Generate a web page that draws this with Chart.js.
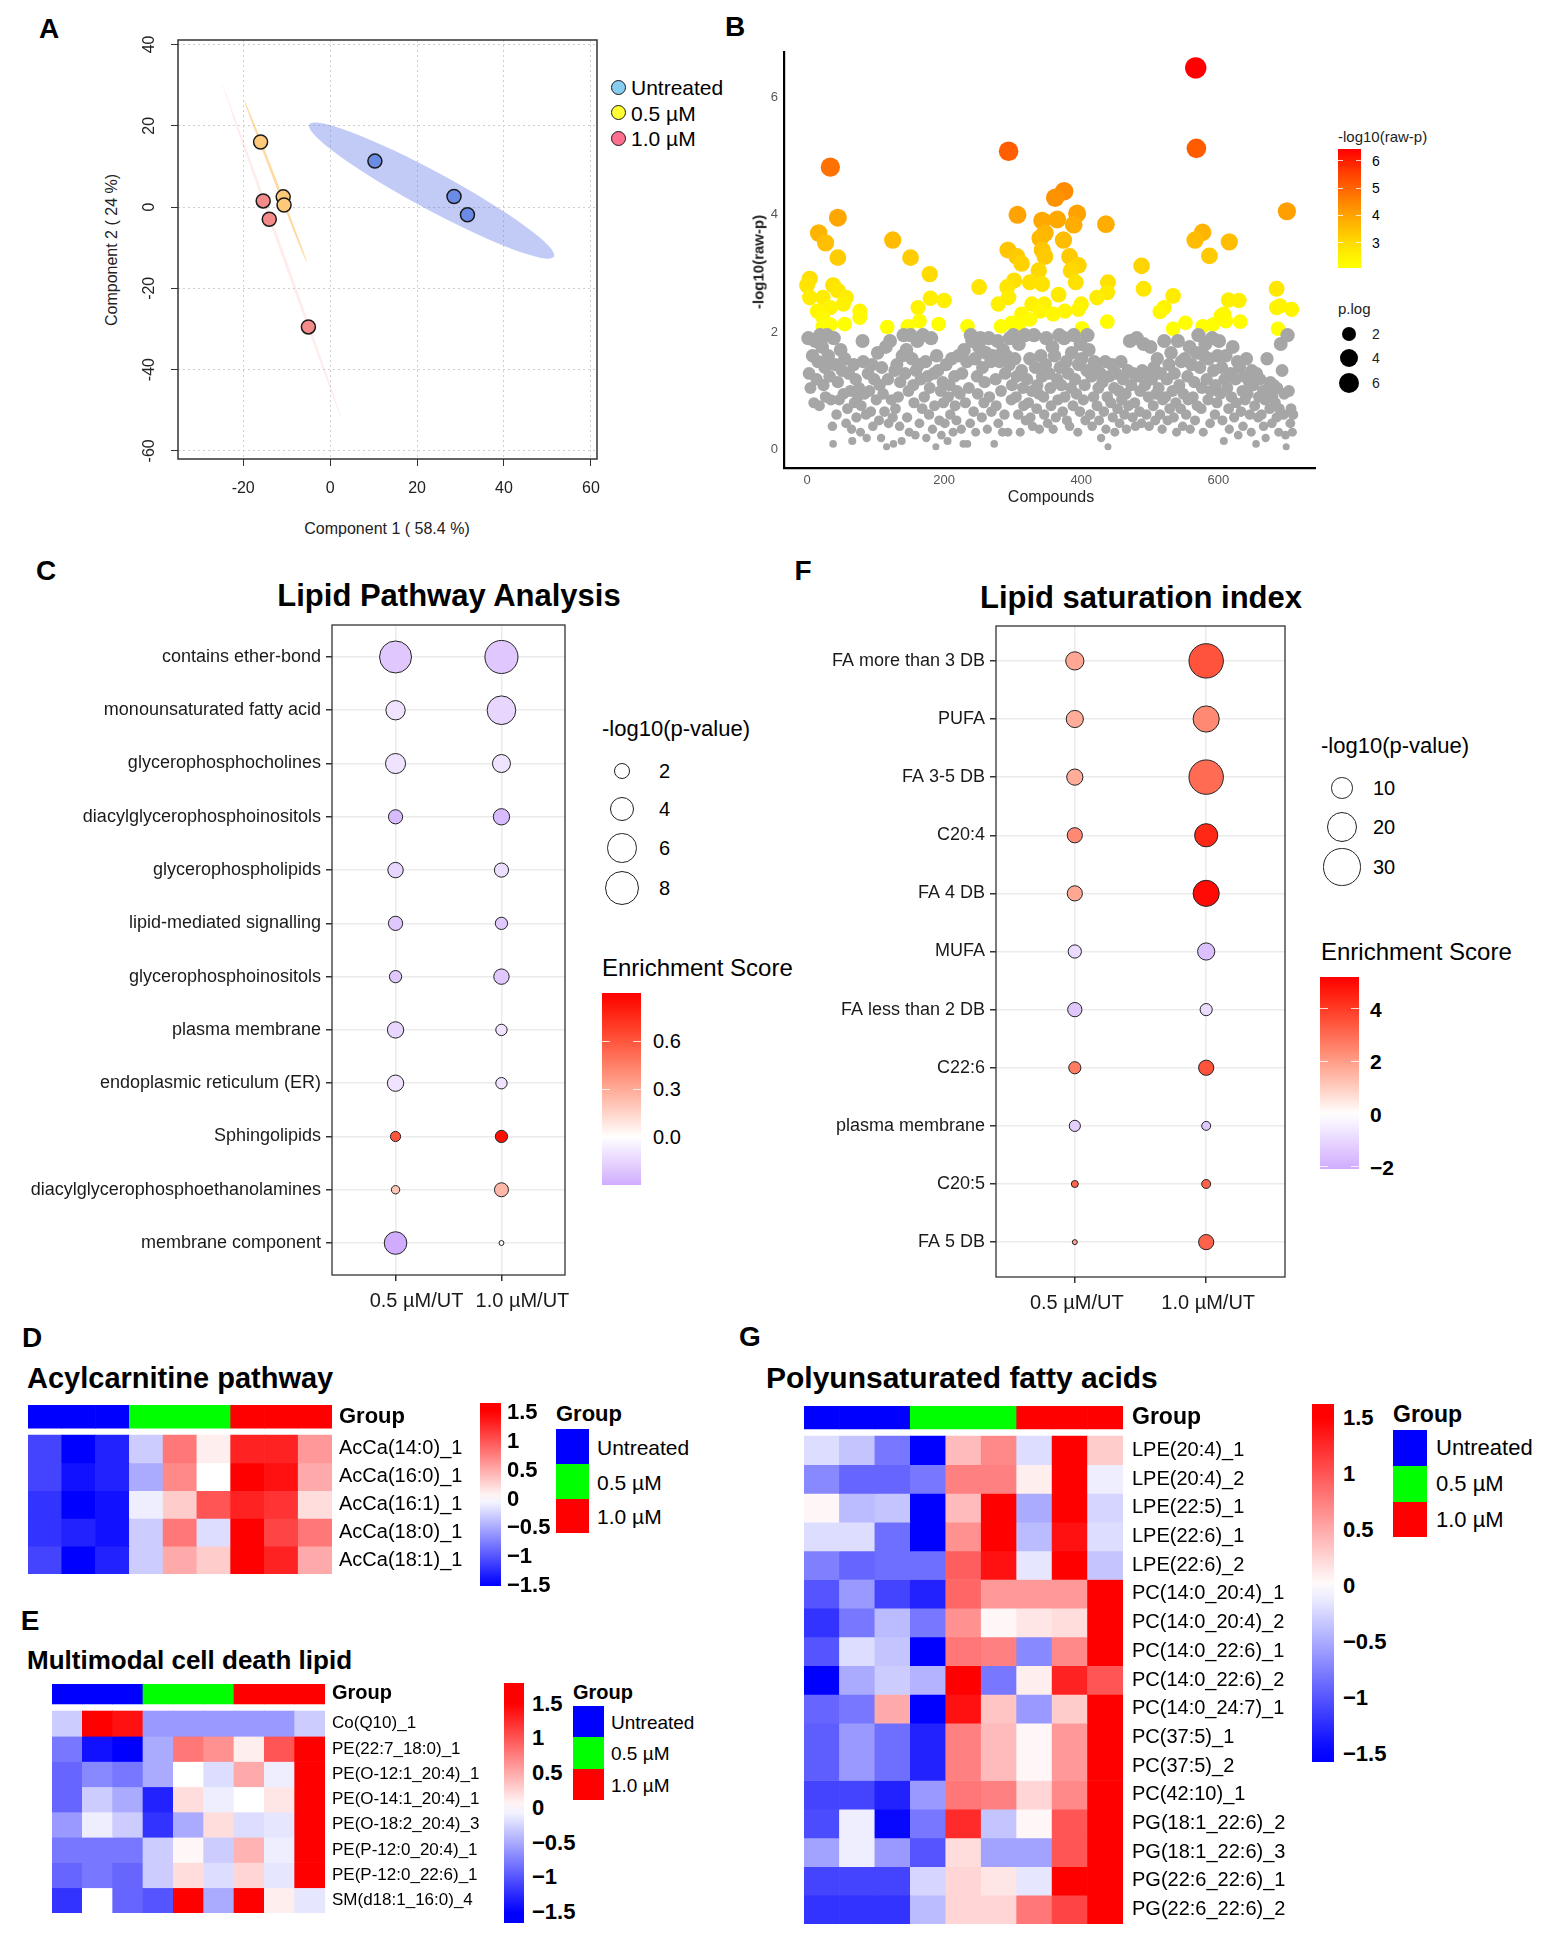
<!DOCTYPE html>
<html>
<head>
<meta charset="utf-8">
<title>Lipidomics figure</title>
<script src="https://cdn.jsdelivr.net/npm/chart.js@4.4.1/dist/chart.umd.min.js"></script>
<style>
  body { margin: 0; background: #fff; }
  #page { position: relative; width: 1549px; height: 1936px; overflow: hidden; background: #fff; }
  #page canvas { position: absolute; }
</style>
</head>
<body>
<div id="page"></div>
<script>
// ---------- A: PCA scores ----------
const pcaUntreated = [[10.3, 11.3], [28.5, 2.6], [31.6, -1.9]];
const pcaLow = [[-16.0, 16.0], [-10.8, 2.5], [-10.6, 0.5]];
const pcaHigh = [[-15.4, 1.5], [-14.0, -3.0], [-5.0, -29.5]];
const pcaXTicks = [-20, 0, 20, 40, 60];
const pcaYTicks = [-60, -40, -20, 0, 20, 40];
// ellipses: major axis end points + half width (data units)
const ellipseFrom = [[-4.8, 20.3], [-19.8, 26.4], [-24.8, 30.1]];
const ellipseTo = [[51.5, -12.2], [-5.3, -13.8], [2.6, -52]];
const ellipseHalf = [4.3, 0.3, 0.35];

// ---------- B: -log10(raw p) per compound ----------
const bSignificant = [[567,6.5],[568,5.13],[294,5.08],[34,4.81],[45,3.95],[375,4.4],[362,4.29],[307,4.0],[394,4.02],[700,4.06],[436,3.84],[343,3.9],[365,3.92],[389,3.83],[17,3.69],[27,3.52],[125,3.57],[347,3.69],[340,3.6],[374,3.57],[577,3.7],[566,3.57],[616,3.54],[45,3.27],[151,3.27],[293,3.4],[306,3.29],[313,3.17],[343,3.4],[347,3.29],[383,3.29],[396,3.14],[587,3.3],[488,3.13],[179,2.99],[338,3.05],[385,3.05],[392,2.85],[325,2.85],[343,2.82],[302,2.88],[292,2.77],[439,2.85],[4,2.91],[0,2.8],[491,2.74],[685,2.74],[251,2.77],[38,2.8],[45,2.71],[438,2.68],[367,2.64],[4,2.59],[23,2.59],[57,2.59],[53,2.48],[200,2.54],[180,2.58],[534,2.62],[423,2.59],[615,2.55],[630,2.54],[279,2.48],[294,2.59],[328,2.48],[346,2.48],[400,2.48],[685,2.42],[707,2.39],[690,2.45],[162,2.42],[77,2.36],[521,2.42],[515,2.35],[15,2.36],[34,2.42],[313,2.31],[340,2.36],[359,2.31],[376,2.36],[396,2.39],[608,2.31],[77,2.25],[23,2.25],[552,2.16],[611,2.19],[632,2.18],[438,2.18],[55,2.14],[164,2.19],[192,2.14],[234,2.1],[117,2.09],[147,2.1],[23,2.1],[34,2.13],[283,2.1],[298,2.16],[309,2.1],[325,2.22],[534,2.06],[577,2.1],[592,2.13],[401,2.07],[687,2.06],[604,2.28]];
const bOther = [[2,1.9],[3,1.3],[5,1.05],[8,1.6],[10,0.8],[12,1.85],[14,1.2],[16,1.5],[18,0.75],[19,1.95],[22,1.75],[24,1.1],[26,1.4],[27,0.9],[29,1.95],[31,1.6],[33,1.25],[35,0.85],[37,0.4],[38,0.1],[39,1.9],[41,1.45],[43,0.6],[45,1.15],[47,0.85],[49,1.7],[51,1.35],[53,0.95],[55,1.55],[57,0.45],[59,0.7],[61,1.3],[63,1.0],[65,0.35],[66,0.15],[68,1.45],[69,0.8],[71,1.2],[72,0.55],[74,0.9],[76,1.05],[78,0.3],[79,0.75],[81,1.85],[82,1.5],[84,0.95],[86,0.6],[87,0.2],[89,1.3],[91,1.0],[93,0.65],[95,1.45],[96,0.4],[98,1.2],[101,0.85],[103,1.65],[105,0.5],[106,1.1],[108,0.2],[109,1.4],[111,0.95],[113,0.65],[115,1.75],[116,0.05],[118,1.2],[119,0.45],[121,1.85],[123,0.85],[125,0.55],[126,0.1],[128,1.35],[129,0.7],[131,1.45],[133,0.9],[135,0.4],[136,1.15],[138,0.15],[139,1.6],[141,1.95],[143,1.3],[145,1.7],[146,0.55],[148,1.0],[149,0.3],[151,1.95],[153,1.55],[155,1.1],[156,0.8],[158,0.25],[159,1.35],[161,1.85],[163,1.45],[164,0.45],[166,1.2],[168,0.7],[169,1.95],[171,0.9],[173,1.5],[174,0.2],[176,1.25],[178,0.6],[179,1.05],[181,1.9],[183,0.35],[185,1.3],[186,0.75],[188,0.05],[189,1.6],[191,1.35],[193,0.5],[195,1.0],[196,0.25],[198,1.15],[199,0.8],[201,0.45],[203,1.45],[205,0.15],[206,0.9],[208,1.1],[209,0.6],[211,1.55],[213,0.3],[215,1.25],[216,0.75],[218,0.5],[219,1.0],[221,1.6],[223,0.95],[225,0.35],[226,1.3],[228,0.1],[229,1.7],[231,0.8],[233,1.5],[234,0.1],[236,1.05],[238,0.45],[239,1.95],[241,1.85],[243,0.65],[245,1.55],[246,0.3],[248,1.25],[249,0.95],[251,1.75],[253,1.9],[255,0.55],[256,1.4],[258,0.8],[259,1.15],[261,1.65],[263,0.35],[265,1.9],[266,0.9],[268,1.5],[269,0.65],[271,1.6],[273,0.1],[275,1.2],[276,0.75],[278,1.85],[279,0.45],[281,1.5],[283,1.0],[285,0.3],[286,1.7],[288,0.6],[289,1.3],[291,1.6],[293,0.3],[295,1.45],[296,1.9],[298,0.85],[299,1.1],[301,1.95],[303,1.55],[305,0.9],[306,1.25],[308,0.6],[309,1.8],[311,0.3],[313,1.35],[315,1.05],[316,0.75],[318,1.95],[319,0.5],[321,1.2],[323,0.8],[325,1.55],[326,0.55],[328,1.0],[329,0.4],[331,1.95],[333,1.4],[335,0.7],[336,1.1],[338,0.95],[339,0.35],[341,1.6],[343,1.25],[345,0.9],[346,0.6],[348,1.45],[349,1.9],[351,0.45],[353,1.3],[355,1.05],[356,0.75],[358,1.75],[359,0.35],[361,1.6],[363,0.55],[365,1.2],[366,0.85],[368,1.95],[369,1.4],[371,1.1],[373,0.65],[375,1.9],[376,0.9],[378,1.5],[379,0.5],[381,1.3],[383,0.4],[385,1.05],[386,1.65],[388,0.75],[389,1.95],[391,1.2],[393,0.95],[395,0.3],[396,1.45],[398,0.65],[399,1.8],[401,1.55],[403,0.85],[405,1.1],[406,0.5],[408,1.35],[409,1.95],[411,1.7],[413,0.6],[415,1.25],[416,0.4],[418,0.9],[419,1.5],[421,1.4],[423,0.75],[425,1.05],[426,0.5],[428,1.3],[429,0.2],[431,1.15],[433,0.65],[435,1.5],[436,0.35],[438,0.9],[439,0.05],[441,1.25],[443,0.8],[445,1.45],[446,0.55],[448,1.05],[449,0.3],[451,1.3],[453,0.7],[455,1.0],[456,0.45],[458,1.5],[459,0.85],[461,1.2],[463,0.6],[465,0.95],[466,0.35],[468,1.35],[469,0.75],[471,1.85],[473,1.1],[475,0.55],[476,1.3],[478,0.8],[479,0.4],[481,1.9],[483,1.25],[485,0.65],[486,1.0],[488,0.45],[489,1.35],[491,1.8],[493,1.1],[495,0.6],[496,1.3],[498,0.9],[499,0.4],[501,1.75],[503,1.2],[505,0.75],[506,1.4],[508,0.5],[509,0.95],[511,1.55],[513,1.05],[515,0.6],[516,1.3],[518,0.35],[519,0.85],[521,1.85],[523,0.9],[525,1.2],[526,0.5],[528,1.45],[529,0.7],[531,1.65],[533,1.0],[535,0.55],[536,1.3],[538,0.8],[539,0.3],[541,1.85],[543,1.1],[545,0.7],[546,1.5],[548,0.4],[549,0.95],[551,1.55],[553,0.6],[555,1.25],[556,0.85],[558,1.75],[559,0.35],[561,1.45],[563,0.9],[565,1.15],[566,0.5],[568,1.65],[569,0.75],[571,1.95],[573,1.4],[575,0.7],[576,1.05],[578,0.3],[579,1.6],[581,1.8],[583,1.2],[585,0.85],[586,1.55],[588,0.45],[589,1.0],[591,1.9],[593,1.35],[595,0.6],[596,1.1],[598,0.8],[599,1.6],[601,1.85],[603,0.95],[605,1.4],[606,0.5],[608,0.15],[609,1.2],[611,1.6],[613,1.05],[615,0.7],[616,0.35],[618,1.3],[619,0.9],[621,1.75],[623,0.55],[625,1.2],[626,0.8],[628,1.5],[629,0.25],[631,1.4],[633,0.65],[635,1.0],[636,0.4],[638,1.25],[639,0.85],[641,1.55],[643,0.95],[645,1.15],[646,0.6],[648,0.3],[649,1.35],[651,1.1],[653,0.75],[655,0.1],[656,1.3],[658,0.55],[659,0.9],[661,1.2],[663,0.6],[665,1.0],[666,0.4],[668,0.85],[669,0.2],[671,1.55],[673,1.05],[675,0.7],[676,1.15],[678,0.45],[679,0.9],[681,1.1],[683,0.8],[685,0.55],[686,1.05],[688,0.3],[689,0.7],[691,1.8],[693,1.35],[695,0.6],[696,0.95],[698,0.25],[699,0.05],[701,1.95],[703,1.0],[705,0.45],[706,0.7],[708,0.3],[709,0.6]];
const bXTicks = [0, 200, 400, 600];
const bYTicks = [0, 2, 4, 6];

// ---------- C: lipid pathway analysis ----------
const pathwayLabels = ['contains ether-bond', 'monounsaturated fatty acid', 'glycerophosphocholines', 'diacylglycerophosphoinositols', 'glycerophospholipids', 'lipid-mediated signalling', 'glycerophosphoinositols', 'plasma membrane', 'endoplasmic reticulum (ER)', 'Sphingolipids', 'diacylglycerophosphoethanolamines', 'membrane component'];
const pathwayLogP05 = [7.1, 2.6, 2.8, 1.4, 1.65, 1.4, 1.05, 1.85, 1.85, 0.72, 0.49, 3.55];
const pathwayLogP10 = [7.6, 5.7, 2.25, 1.85, 1.4, 1.05, 1.65, 0.9, 0.9, 1.05, 1.36, 0.17];
const pathwayES05 = [-0.2, -0.1, -0.1, -0.25, -0.15, -0.2, -0.2, -0.15, -0.1, 0.6, 0.2, -0.3];
const pathwayES10 = [-0.2, -0.15, -0.1, -0.25, -0.12, -0.2, -0.2, -0.1, -0.1, 0.85, 0.25, 0.03];
const comparisons = ['0.5 µM/UT', '1.0 µM/UT'];

// ---------- F: lipid saturation index ----------
const satLabels = ['FA more than 3 DB', 'PUFA', 'FA 3-5 DB', 'C20:4', 'FA 4 DB', 'MUFA', 'FA less than 2 DB', 'C22:6', 'plasma membrane', 'C20:5', 'FA 5 DB'];
const satLogP05 = [7.2, 6.4, 5.7, 5.0, 5.0, 3.8, 4.4, 3.2, 2.7, 1.06, 0.54];
const satLogP10 = [25.6, 14.8, 25.6, 11.6, 14.8, 6.4, 3.2, 5.0, 1.75, 1.75, 5.0];
const satES05 = [1.8, 1.7, 1.7, 2.4, 1.8, -0.9, -1.4, 2.7, -1.2, 3.1, 1.9];
const satES10 = [3.5, 2.4, 3.0, 4.4, 5.0, -1.6, -0.9, 3.5, -1.4, 3.2, 3.2];

// ---------- heatmaps ----------
const groupNames = ['Untreated', '0.5 µM', '1.0 µM'];
const sampleGroups = ['Untreated', 'Untreated', 'Untreated', '0.5 µM', '0.5 µM', '0.5 µM', '1.0 µM', '1.0 µM', '1.0 µM'];

const acylNames = ['AcCa(14:0)_1', 'AcCa(16:0)_1', 'AcCa(16:1)_1', 'AcCa(18:0)_1', 'AcCa(18:1)_1'];
const acylValues = [
  [-1.1, -1.5, -1.3, -0.3, 0.8, 0.1, 1.3, 1.3, 0.6],
  [-1.1, -1.4, -1.3, -0.5, 0.7, 0.0, 1.5, 1.4, 0.5],
  [-1.2, -1.5, -1.4, -0.1, 0.3, 1.0, 1.3, 1.2, 0.2],
  [-1.2, -1.3, -1.4, -0.3, 0.8, -0.2, 1.5, 1.1, 0.8],
  [-1.1, -1.5, -1.3, -0.3, 0.5, 0.3, 1.5, 1.3, 0.5]
];

const deathNames = ['Co(Q10)_1', 'PE(22:7_18:0)_1', 'PE(O-12:1_20:4)_1', 'PE(O-14:1_20:4)_1', 'PE(O-18:2_20:4)_3', 'PE(P-12:0_20:4)_1', 'PE(P-12:0_22:6)_1', 'SM(d18:1_16:0)_4'];
const deathValues = [
  [-0.3, 1.6, 1.4, -0.6, -0.6, -0.6, -0.6, -0.6, -0.3],
  [-0.8, -1.4, -1.6, -0.5, 0.8, 0.65, 0.1, 1.0, 1.7],
  [-0.9, -0.7, -0.8, -0.5, 0.0, -0.2, 0.5, -0.1, 1.7],
  [-0.9, -0.3, -0.5, -1.3, 0.2, -0.1, 0.0, 0.15, 1.7],
  [-0.6, -0.1, -0.3, -1.2, -0.5, 0.2, -0.2, -0.15, 1.7],
  [-0.8, -0.8, -0.8, -0.3, 0.05, -0.3, 0.45, -0.1, 1.7],
  [-0.9, -0.8, -0.9, -0.3, 0.2, -0.2, 0.25, -0.15, 1.7],
  [-1.2, 0.0, -0.9, -1.0, 1.7, -0.5, 1.6, 0.1, -0.15]
];

const pufaNames = ['LPE(20:4)_1', 'LPE(20:4)_2', 'LPE(22:5)_1', 'LPE(22:6)_1', 'LPE(22:6)_2', 'PC(14:0_20:4)_1', 'PC(14:0_20:4)_2', 'PC(14:0_22:6)_1', 'PC(14:0_22:6)_2', 'PC(14:0_24:7)_1', 'PC(37:5)_1', 'PC(37:5)_2', 'PC(42:10)_1', 'PG(18:1_22:6)_2', 'PG(18:1_22:6)_3', 'PG(22:6_22:6)_1', 'PG(22:6_22:6)_2'];
const pufaValues = [
  [-0.2, -0.35, -0.8, -1.5, 0.4, 0.7, -0.2, 1.6, 0.3],
  [-0.7, -0.9, -0.9, -0.8, 0.75, 0.75, 0.1, 1.6, -0.1],
  [0.05, -0.4, -0.35, -1.5, 0.4, 1.6, -0.5, 1.6, -0.25],
  [-0.2, -0.2, -0.85, -1.5, 0.65, 1.6, -0.4, 1.4, -0.2],
  [-0.75, -0.9, -0.85, -0.85, 0.95, 1.4, -0.15, 1.6, -0.35],
  [-1.0, -0.6, -1.1, -1.3, 0.9, 0.6, 0.6, 0.6, 1.6],
  [-1.2, -0.8, -0.4, -0.8, 0.65, 0.05, 0.15, 0.2, 1.6],
  [-1.0, -0.2, -0.35, -1.5, 0.8, 0.75, -0.7, 0.7, 1.6],
  [-1.6, -0.5, -0.3, -0.45, 1.6, -0.8, 0.1, 1.3, 1.0],
  [-0.9, -0.8, 0.5, -1.5, 1.4, 0.35, -0.6, 0.3, 1.6],
  [-0.95, -0.6, -0.85, -1.3, 0.75, 0.4, 0.05, 0.6, 1.6],
  [-0.95, -0.6, -0.85, -1.3, 0.75, 0.4, 0.05, 0.6, 1.6],
  [-1.1, -1.1, -1.3, -0.6, 0.8, 0.75, 0.25, 0.7, 1.6],
  [-1.05, -0.1, -1.45, -0.8, 1.25, -0.35, 0.05, 1.0, 1.6],
  [-0.55, -0.1, -0.6, -1.0, 0.2, -0.55, -0.55, 1.0, 1.6],
  [-1.1, -1.1, -1.1, -0.25, 0.25, 0.15, -0.15, 1.6, 1.6],
  [-1.2, -1.2, -1.2, -0.4, 0.25, 0.25, 0.8, 1.1, 1.6]
];
const heatTicks = [[1.5, '1.5'], [1, '1'], [0.5, '0.5'], [0, '0'], [-0.5, '−0.5'], [-1, '−1'], [-1.5, '−1.5']];

// ---------- helpers ----------
const page = document.getElementById('page');
const FAM = '"Liberation Sans", Arial, Helvetica, sans-serif';
Chart.defaults.font.family = FAM;
const groupColors = { 'Untreated': '#0000ff', '0.5 µM': '#00ff00', '1.0 µM': '#ff0000' };

function el(css) {
  const d = document.createElement('div');
  d.style.cssText = 'position:absolute;' + css;
  page.appendChild(d);
  return d;
}
function txt(s, x, y, size, o = {}) {
  const d = el(`left:${x}px;top:${y}px;font:${o.bold ? 'bold ' : ''}${size}px ${FAM};color:${o.color || '#000'};white-space:nowrap;line-height:1;`);
  d.textContent = s;
  const tx = o.align === 'center' ? '-50%' : o.align === 'right' ? '-100%' : '0';
  d.style.transform = `translate(${tx},-50%)` + (o.rot ? ` rotate(${o.rot}deg)` : '');
  return d;
}
function circle(cx, cy, r, fill, stroke, bw) {
  el(`left:${cx - r}px;top:${cy - r}px;width:${2 * r}px;height:${2 * r}px;border-radius:50%;background:${fill};border:${bw}px solid ${stroke};box-sizing:border-box;`);
}
function box(x, y, w, h, bg) {
  el(`left:${x}px;top:${y}px;width:${w}px;height:${h}px;background:${bg};`);
}
function gradCss(fn, vTop, vBot) {
  const stops = [];
  for (let i = 0; i <= 24; i++) {
    const v = vTop + (vBot - vTop) * i / 24;
    stops.push(`${fn(v)} ${(i * 100 / 24).toFixed(2)}%`);
  }
  return `linear-gradient(to bottom, ${stops.join(',')})`;
}
function colorbar(x, y, w, h, fn, vTop, vBot, ticks, labelX, size, bold, marks) {
  box(x, y, w, h, gradCss(fn, vTop, vBot));
  ticks.forEach(([v, label]) => {
    const py = y + (vTop - v) / (vTop - vBot) * h;
    if (marks) {
      box(x, py - 0.5, w * 0.2, 1, 'rgba(255,255,255,0.8)');
      box(x + w * 0.8, py - 0.5, w * 0.2, 1, 'rgba(255,255,255,0.8)');
    }
    txt(label, labelX, py, size, { bold });
  });
}
function mkCanvas(x, y, w, h) {
  const c = document.createElement('canvas');
  c.width = w; c.height = h;
  c.style.left = x + 'px'; c.style.top = y + 'px';
  c.style.width = w + 'px'; c.style.height = h + 'px';
  page.appendChild(c);
  return c;
}
function fit(prop, val) {
  return s => { s[prop] = val; s.paddingLeft = 0; s.paddingRight = 0; s.paddingTop = 0; s.paddingBottom = 0; };
}
function at(vals) {
  return s => { s.ticks = vals.map(v => ({ value: v })); };
}
const pts = arr => arr.map(([x, y]) => ({ x, y }));
const noUI = { legend: { display: false }, tooltip: { enabled: false } };
const base = pad => ({ responsive: false, animation: false, events: [], layout: { padding: pad, autoPadding: false } });

function heatColor(v) {
  const t = Math.min(1, Math.abs(v) / 1.5);
  const k = Math.round(255 * (1 - t));
  return v >= 0 ? `rgb(255,${k},${k})` : `rgb(${k},${k},255)`;
}
const LAV = [208, 172, 254];
function divColor(v, hi, lo) {
  if (v >= 0) {
    const t = Math.min(1, v / hi);
    return `rgb(255,${Math.round(255 * (1 - t))},${Math.round(255 * Math.pow(1 - t, 1.3))})`;
  }
  const t = Math.min(1, v / lo);
  return `rgb(${LAV.map(c => Math.round(255 + (c - 255) * t)).join(',')})`;
}
const bSigColor = v => {
  const t = Math.max(0, Math.min(1, (v - 2.07) / (6.44 - 2.07)));
  return `rgb(255,${Math.round(255 * (1 - Math.pow(t, 1.25)))},0)`;
};
const bSize = v => 2.83 + 3.09 * Math.sqrt(Math.max(v, 0));
const cSize = v => 6 * Math.sqrt(v);
const fSize = v => 3.4 * Math.sqrt(v);
const cColor = v => divColor(v, 0.9, -0.3);
const fColor = v => divColor(v, 5.2, -2.08);

const boxPlugin = {
  id: 'box',
  afterDatasetsDraw(chart, args, o) {
    if (!o.color) return;
    const a = chart.chartArea, c = chart.ctx;
    c.save();
    c.strokeStyle = o.color; c.lineWidth = o.width;
    c.strokeRect(a.left, a.top, a.right - a.left, a.bottom - a.top);
    c.restore();
  }
};
const ellipsePlugin = {
  id: 'ell',
  beforeDatasetsDraw(chart) {
    const xs = chart.scales.x, ys = chart.scales.y, c = chart.ctx;
    const fills = ['rgba(90,110,230,0.37)', 'rgba(255,180,70,0.5)', 'rgba(255,165,165,0.2)'];
    ellipseFrom.forEach((f, i) => {
      const t = ellipseTo[i];
      const x1 = xs.getPixelForValue(f[0]), y1 = ys.getPixelForValue(f[1]);
      const x2 = xs.getPixelForValue(t[0]), y2 = ys.getPixelForValue(t[1]);
      const rx = Math.hypot(x2 - x1, y2 - y1) / 2;
      const ry = Math.abs(xs.getPixelForValue(ellipseHalf[i]) - xs.getPixelForValue(0));
      c.save();
      c.fillStyle = fills[i];
      c.beginPath();
      c.ellipse((x1 + x2) / 2, (y1 + y2) / 2, rx, ry, Math.atan2(y2 - y1, x2 - x1), 0, Math.PI * 2);
      c.fill();
      c.restore();
    });
  }
};
const yRotPlugin = {
  id: 'yRot',
  afterDraw(chart, args, o) {
    const s = chart.scales.y, c = chart.ctx;
    c.save();
    c.font = `16px ${FAM}`; c.fillStyle = '#222';
    c.textAlign = 'center'; c.textBaseline = 'middle';
    s.ticks.forEach(t => {
      c.save();
      c.translate(o.x, s.getPixelForValue(t.value));
      c.rotate(-Math.PI / 2);
      c.fillText(String(t.value), 0, 0);
      c.restore();
    });
    c.restore();
  }
};

// ---------- panel letters ----------
[['A', 49, 29], ['B', 735, 27], ['C', 46, 571], ['F', 803, 571], ['D', 32, 1338], ['E', 30, 1621], ['G', 750, 1337]]
  .forEach(([s, x, y]) => txt(s, x, y, 28, { bold: true, align: 'center' }));

// ---------- A ----------
new Chart(mkCanvas(130, 30, 480, 480), {
  type: 'scatter',
  data: {
    datasets: [[pcaUntreated, '#6a8be6'], [pcaLow, '#ffc97a'], [pcaHigh, '#f38b8b']].map(([d, col]) => ({
      data: pts(d), pointRadius: 7, pointBackgroundColor: col, pointBorderColor: '#1a1a1a', pointBorderWidth: 1.5
    }))
  },
  options: Object.assign(base({ left: 0, top: 10, right: 13, bottom: 0 }), {
    scales: {
      x: {
        type: 'linear', min: -35, max: 61.4, afterBuildTicks: at(pcaXTicks), afterFit: fit('height', 51),
        grid: { color: '#cfcfcf', tickColor: '#333', tickLength: 7 },
        border: { display: false, dash: [2, 3] },
        ticks: { font: { size: 16 }, color: '#222', padding: 13, callback: v => v }
      },
      y: {
        type: 'linear', min: -62, max: 41.1, afterBuildTicks: at(pcaYTicks), afterFit: fit('width', 48),
        grid: { color: '#cfcfcf', tickColor: '#333', tickLength: 7 },
        border: { display: false, dash: [2, 3] },
        ticks: { display: false }
      }
    },
    plugins: Object.assign({ box: { color: '#333', width: 1.5 }, yRot: { x: 20 } }, noUI)
  }),
  plugins: [ellipsePlugin, boxPlugin, yRotPlugin]
});
txt('Component 2 ( 24 %)', 112, 250, 16, { align: 'center', rot: -90, color: '#222' });
txt('Component 1 ( 58.4 %)', 387, 529, 16, { align: 'center', color: '#222' });
['#87cdf0', '#ffff33', '#ff6f8f'].forEach((col, i) => {
  circle(618, 87 + i * 25.5, 7.5, col, '#1a1a1a', 1.5);
  txt(groupNames[i], 631, 87 + i * 25.5, 21);
});

// ---------- B ----------
new Chart(mkCanvas(740, 40, 590, 470), {
  type: 'scatter',
  data: {
    datasets: [
      { data: pts(bOther), pointRadius: bOther.map(p => bSize(p[1])), pointBackgroundColor: '#a6a6a6', pointBorderWidth: 0 },
      { data: pts(bSignificant), pointRadius: bSignificant.map(p => bSize(p[1])), pointBackgroundColor: bSignificant.map(p => bSigColor(p[1])), pointBorderWidth: 0 }
    ]
  },
  options: Object.assign(base({ left: 0, top: 12, right: 15, bottom: 0 }), {
    scales: {
      x: {
        type: 'linear', min: -33.6, max: 741, afterBuildTicks: at(bXTicks), afterFit: fit('height', 42),
        grid: { display: false, drawTicks: false }, border: { color: '#000', width: 2.2 },
        ticks: { font: { size: 13 }, color: '#555', padding: 5 }
      },
      y: {
        type: 'linear', min: -0.31, max: 6.77, afterBuildTicks: at(bYTicks), afterFit: fit('width', 44),
        grid: { display: false, drawTicks: false }, border: { color: '#000', width: 2.2 },
        ticks: { font: { size: 13 }, color: '#555', padding: 6 }
      }
    },
    plugins: noUI
  })
});
txt('-log10(raw-p)', 758, 262, 15, { align: 'center', rot: -90, bold: true, color: '#222' });
txt('Compounds', 1051, 497, 16, { align: 'center', color: '#222' });
txt('-log10(raw-p)', 1338, 136, 15, { color: '#222' });
colorbar(1338, 149, 23, 119, bSigColor, 6.44, 2.07, [[6, '6'], [5, '5'], [4, '4'], [3, '3']], 1372, 14, false, true);
txt('p.log', 1338, 308, 15, { color: '#222' });
[[2, 334], [4, 358], [6, 383]].forEach(([v, y]) => {
  circle(1349, y, bSize(v), '#000', '#000', 0);
  txt(String(v), 1372, y, 14, { color: '#222' });
});

// ---------- C / F bubble charts ----------
function bubblePanel(cv, pad, yWidth, xHeight, labels, p05, p10, e05, e10, sizeFn, colorFn, xLabelOffset) {
  const n = labels.length;
  new Chart(mkCanvas(...cv), {
    type: 'bubble',
    data: {
      datasets: [[0, p05, e05], [1, p10, e10]].map(([x, p, e]) => ({
        data: labels.map((_, i) => ({ x, y: i, r: sizeFn(p[i]) })),
        backgroundColor: e.map(colorFn), borderColor: '#222', borderWidth: 1
      }))
    },
    options: Object.assign(base(pad), {
      scales: {
        x: {
          type: 'linear', min: -0.6, max: 1.6, afterBuildTicks: at([0, 1]), afterFit: fit('height', xHeight),
          grid: { color: '#ebebeb', lineWidth: 1.5, tickColor: '#333', tickLength: 6 }, border: { display: false },
          ticks: { font: { size: 20 }, color: '#1a1a1a', padding: 8, labelOffset: xLabelOffset, callback: (v, i) => comparisons[i] }
        },
        y: {
          type: 'linear', reverse: true, min: -0.6, max: n - 0.4, afterBuildTicks: at(labels.map((_, i) => i)),
          afterFit: fit('width', yWidth),
          grid: { color: '#ebebeb', lineWidth: 1.5, tickColor: '#333', tickLength: 6 }, border: { display: false },
          ticks: { font: { size: 18 }, color: '#1a1a1a', padding: 5, autoSkip: false, callback: (v, i) => labels[i] }
        }
      },
      plugins: Object.assign({ box: { color: '#333', width: 1.3 } }, noUI)
    }),
    plugins: [boxPlugin]
  });
}

txt('Lipid Pathway Analysis', 449, 595, 31, { bold: true, align: 'center' });
bubblePanel([0, 615, 580, 715], { left: 0, top: 10, right: 15, bottom: 0 }, 332, 55,
  pathwayLabels, pathwayLogP05, pathwayLogP10, pathwayES05, pathwayES10, cSize, cColor, 21);
txt('-log10(p-value)', 602, 729, 22);
[[2, 771], [4, 809], [6, 848], [8, 888]].forEach(([v, y]) => {
  circle(622, y, cSize(v), '#fff', '#222', 1.3);
  txt(String(v), 659, y, 20);
});
txt('Enrichment Score', 602, 968, 24);
colorbar(602, 993, 39, 192, cColor, 0.9, -0.3, [[0.6, '0.6'], [0.3, '0.3'], [0, '0.0']], 653, 20, false, true);

txt('Lipid saturation index', 1141, 597, 31, { bold: true, align: 'center' });
bubblePanel([760, 616, 540, 720], { left: 0, top: 10, right: 15, bottom: 0 }, 236, 59,
  satLabels, satLogP05, satLogP10, satES05, satES10, fSize, fColor, 2);
txt('-log10(p-value)', 1321, 746, 22);
[[10, 788], [20, 827], [30, 867]].forEach(([v, y]) => {
  circle(1342, y, fSize(v), '#fff', '#222', 1.3);
  txt(String(v), 1373, y, 20);
});
txt('Enrichment Score', 1321, 952, 24);
colorbar(1320, 977, 39, 192, fColor, 5.2, -2.08, [[4, '4'], [2, '2'], [0, '0'], [-2, '−2']], 1370, 21, true, true);

// ---------- heatmaps ----------
function heatmap(cv, area, rows, names, o) {
  const [cx, cy, cw, ch] = cv, [l, t, r, b] = area;
  const total = o.bar + o.gap + rows.length;
  const tickVals = [o.bar / 2].concat(rows.map((_, i) => o.bar + o.gap + i + 0.5));
  const tickText = ['Group'].concat(names);
  const datasets = [
    { data: sampleGroups.map(() => o.bar), backgroundColor: sampleGroups.map(g => groupColors[g]) },
    { data: sampleGroups.map(() => o.gap), backgroundColor: 'rgba(0,0,0,0)' }
  ].concat(rows.map(row => ({ data: row.map(() => 1), backgroundColor: row.map(heatColor) })));
  new Chart(mkCanvas(cx, cy, cw, ch), {
    type: 'bar',
    data: { labels: sampleGroups.map((g, i) => g + ' ' + (i % 3 + 1)), datasets },
    options: Object.assign(base({ left: l - cx, top: t - cy, right: 0, bottom: cy + ch - b }), {
      datasets: { bar: { barPercentage: 1, categoryPercentage: 1, borderWidth: 0 } },
      scales: {
        x: { type: 'category', stacked: true, display: false },
        y: {
          type: 'linear', stacked: true, reverse: true, min: 0, max: total, position: 'right',
          afterBuildTicks: at(tickVals), afterFit: fit('width', cx + cw - r),
          grid: { display: false, drawTicks: false }, border: { display: false },
          ticks: {
            autoSkip: false, padding: o.pad, color: '#000', callback: (v, i) => tickText[i],
            font: c => c.index === 0 ? { size: o.groupSize, weight: 'bold' } : { size: o.size }
          }
        }
      },
      plugins: noUI
    })
  });
}
function groupLegend(x, yTitle, titleSize, boxW, edges, labelX, labelSize) {
  txt('Group', x, yTitle, titleSize, { bold: true });
  groupNames.forEach((g, i) => {
    box(x, edges[i], boxW, edges[i + 1] - edges[i], groupColors[g]);
    txt(g, labelX, (edges[i] + edges[i + 1]) / 2, labelSize);
  });
}

// D
txt('Acylcarnitine pathway', 27, 1378, 29, { bold: true });
heatmap([20, 1395, 470, 190], [28, 1405, 332, 1574], acylValues, acylNames, { bar: 0.83, gap: 0.25, pad: 7, size: 20, groupSize: 22 });
colorbar(480, 1403, 21, 183, heatColor, 1.66, -1.52, heatTicks, 507, 22, true, false);
groupLegend(556, 1414, 22, 33, [1429, 1464, 1499, 1533], 597, 21);

// E
txt('Multimodal cell death lipid', 27, 1660, 26, { bold: true });
heatmap([44, 1675, 456, 250], [52, 1684, 325, 1913], deathValues, deathNames, { bar: 0.79, gap: 0.28, pad: 7, size: 17, groupSize: 20 });
colorbar(504, 1683, 20, 240, heatColor, 1.8, -1.66, heatTicks, 532, 22, true, false);
groupLegend(573, 1692, 20, 31, [1706, 1737, 1769, 1800], 611, 19);

// G
txt('Polyunsaturated fatty acids', 766, 1378, 30, { bold: true });
heatmap([796, 1396, 514, 536], [804, 1406, 1123, 1924], pufaValues, pufaNames, { bar: 0.8, gap: 0.244, pad: 9, size: 20, groupSize: 23 });
colorbar(1312, 1404, 22, 358, heatColor, 1.625, -1.57, heatTicks, 1343, 22, true, false);
groupLegend(1393, 1414, 23, 34, [1430, 1466, 1502, 1537], 1436, 22);
</script>
</body>
</html>
